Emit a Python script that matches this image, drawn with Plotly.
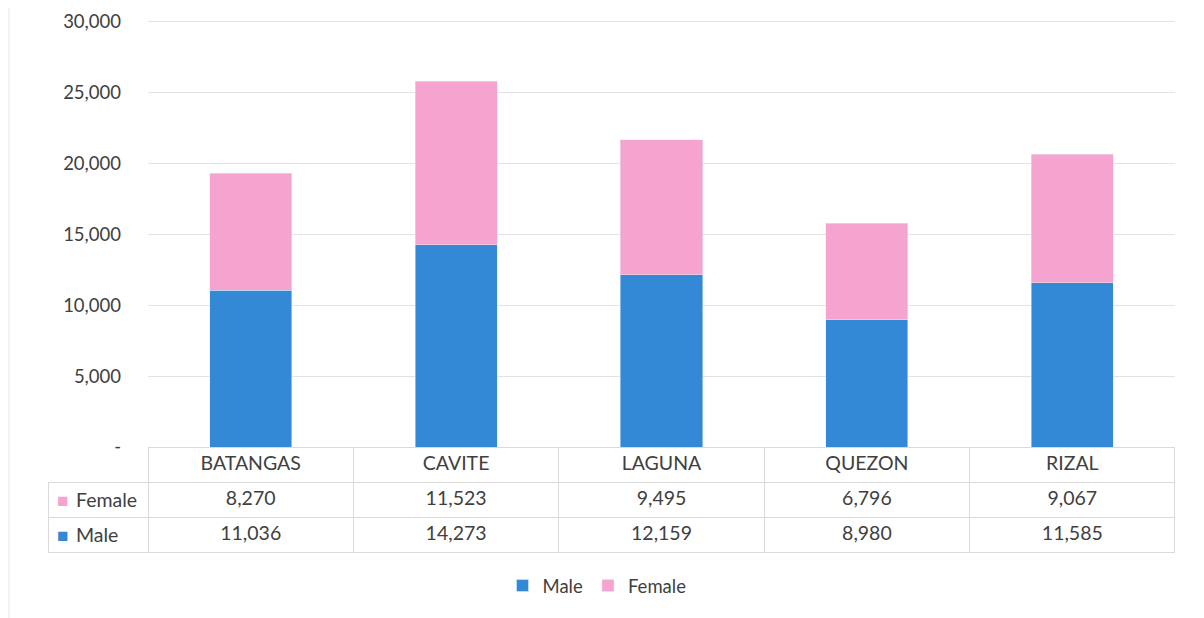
import plotly.graph_objects as go

# 数据
provinces = ["BATANGAS", "CAVITE", "LAGUNA", "QUEZON", "RIZAL"]
male = [11036, 14273, 12159, 8980, 11585]
female = [8270, 11523, 9495, 6796, 9067]
series_labels = ["Female", "Male"]
y_ticks = [0, 5000, 10000, 15000, 20000, 25000, 30000]
y_tick_labels = ["-", "5,000", "10,000", "15,000", "20,000", "25,000", "30,000"]

MALE_COLOR = "#3389D6"
FEMALE_COLOR = "#F5A3CF"
TEXT_COLOR = "#404040"
LINE_COLOR = "#DADADA"
FONT = "Lato, 'Open Sans', sans-serif"

# 页面 body 有 8px 的外边距，图整体缩小 8px 再按参考图像素换算
OFF = 8
W, H = 1204 - OFF, 618 - OFF
L, R, T, B = 48 - OFF, 1204 - 1175, 20 - OFF, 10
PW, PH = W - L - R, H - T - B


def px_x(x):
    return (x - OFF - L) / PW


def px_y(y):
    return (H - B - (y - OFF)) / PH


fig = go.Figure()

fig.add_trace(go.Bar(x=provinces, y=male, name="Male", marker_color=MALE_COLOR,
                     width=0.4))
fig.add_trace(go.Bar(x=provinces, y=female, name="Female", marker_color=FEMALE_COLOR,
                     width=0.4))

# 数据表（与柱子对齐）
n = len(provinces)
cols = [["", ""]] + [[f"{f:,}", f"{m:,}"] for f, m in zip(female, male)]

fig.add_trace(go.Table(
    domain=dict(x=[0, 1], y=[px_y(553), px_y(447)]),
    columnwidth=[100] + [205.4] * n,
    header=dict(
        values=[""] + provinces,
        height=35,
        align="center",
        fill_color=["rgba(0,0,0,0)"] + ["white"] * n,
        line=dict(color=["rgba(0,0,0,0)"] + [LINE_COLOR] * n, width=1),
        font=dict(family=FONT, size=19.5, color=TEXT_COLOR),
    ),
    cells=dict(
        values=cols,
        height=35,
        align="center",
        fill_color="white",
        line=dict(color=LINE_COLOR, width=1),
        font=dict(family=FONT, size=19.5, color=TEXT_COLOR),
    ),
))

# 表中行标题（色块 + 名称）
row_colors = [FEMALE_COLOR, MALE_COLOR]
row_y = [499, 534]
for lbl, color, yy in zip(series_labels, row_colors, row_y):
    fig.add_annotation(x=px_x(55), y=px_y(yy), xref="paper", yref="paper",
                       text="■", showarrow=False, xanchor="left", yanchor="middle",
                       font=dict(family=FONT, size=19, color=color))
    fig.add_annotation(x=px_x(74), y=px_y(yy), xref="paper", yref="paper",
                       text=lbl, showarrow=False, xanchor="left", yanchor="middle",
                       font=dict(family=FONT, size=19.5, color=TEXT_COLOR))

fig.update_layout(
    barmode="stack",
    width=W,
    height=H,
    margin=dict(l=L, r=R, t=T, b=B, autoexpand=False),
    paper_bgcolor="white",
    plot_bgcolor="white",
    font=dict(family=FONT, size=18, color=TEXT_COLOR),
    xaxis=dict(domain=[px_x(148), 1], showticklabels=False, showgrid=False,
               zeroline=False, showline=False, ticks="", automargin=False),
    yaxis=dict(domain=[px_y(447), 1], range=[0, 30100], tickvals=y_ticks,
               ticktext=y_tick_labels, showgrid=True, gridcolor="#E3E3E3",
               gridwidth=1, zeroline=False, showline=False, ticks="",
               automargin=False, ticklabelstandoff=26,
               tickfont=dict(size=18.5, color=TEXT_COLOR)),
    legend=dict(orientation="h", x=px_x(597), xanchor="center", y=px_y(586),
                yanchor="middle", font=dict(size=18.5, color=TEXT_COLOR),
                itemwidth=30, traceorder="normal"),
    showlegend=True,
)

# 扫描件边框
for xx in (9, 1201):
    fig.add_shape(type="line", xref="paper", yref="paper", x0=px_x(xx), x1=px_x(xx),
                  y0=px_y(618), y1=px_y(OFF), line=dict(color="#E6E6E6", width=1))

fig.write_html("out.html")
